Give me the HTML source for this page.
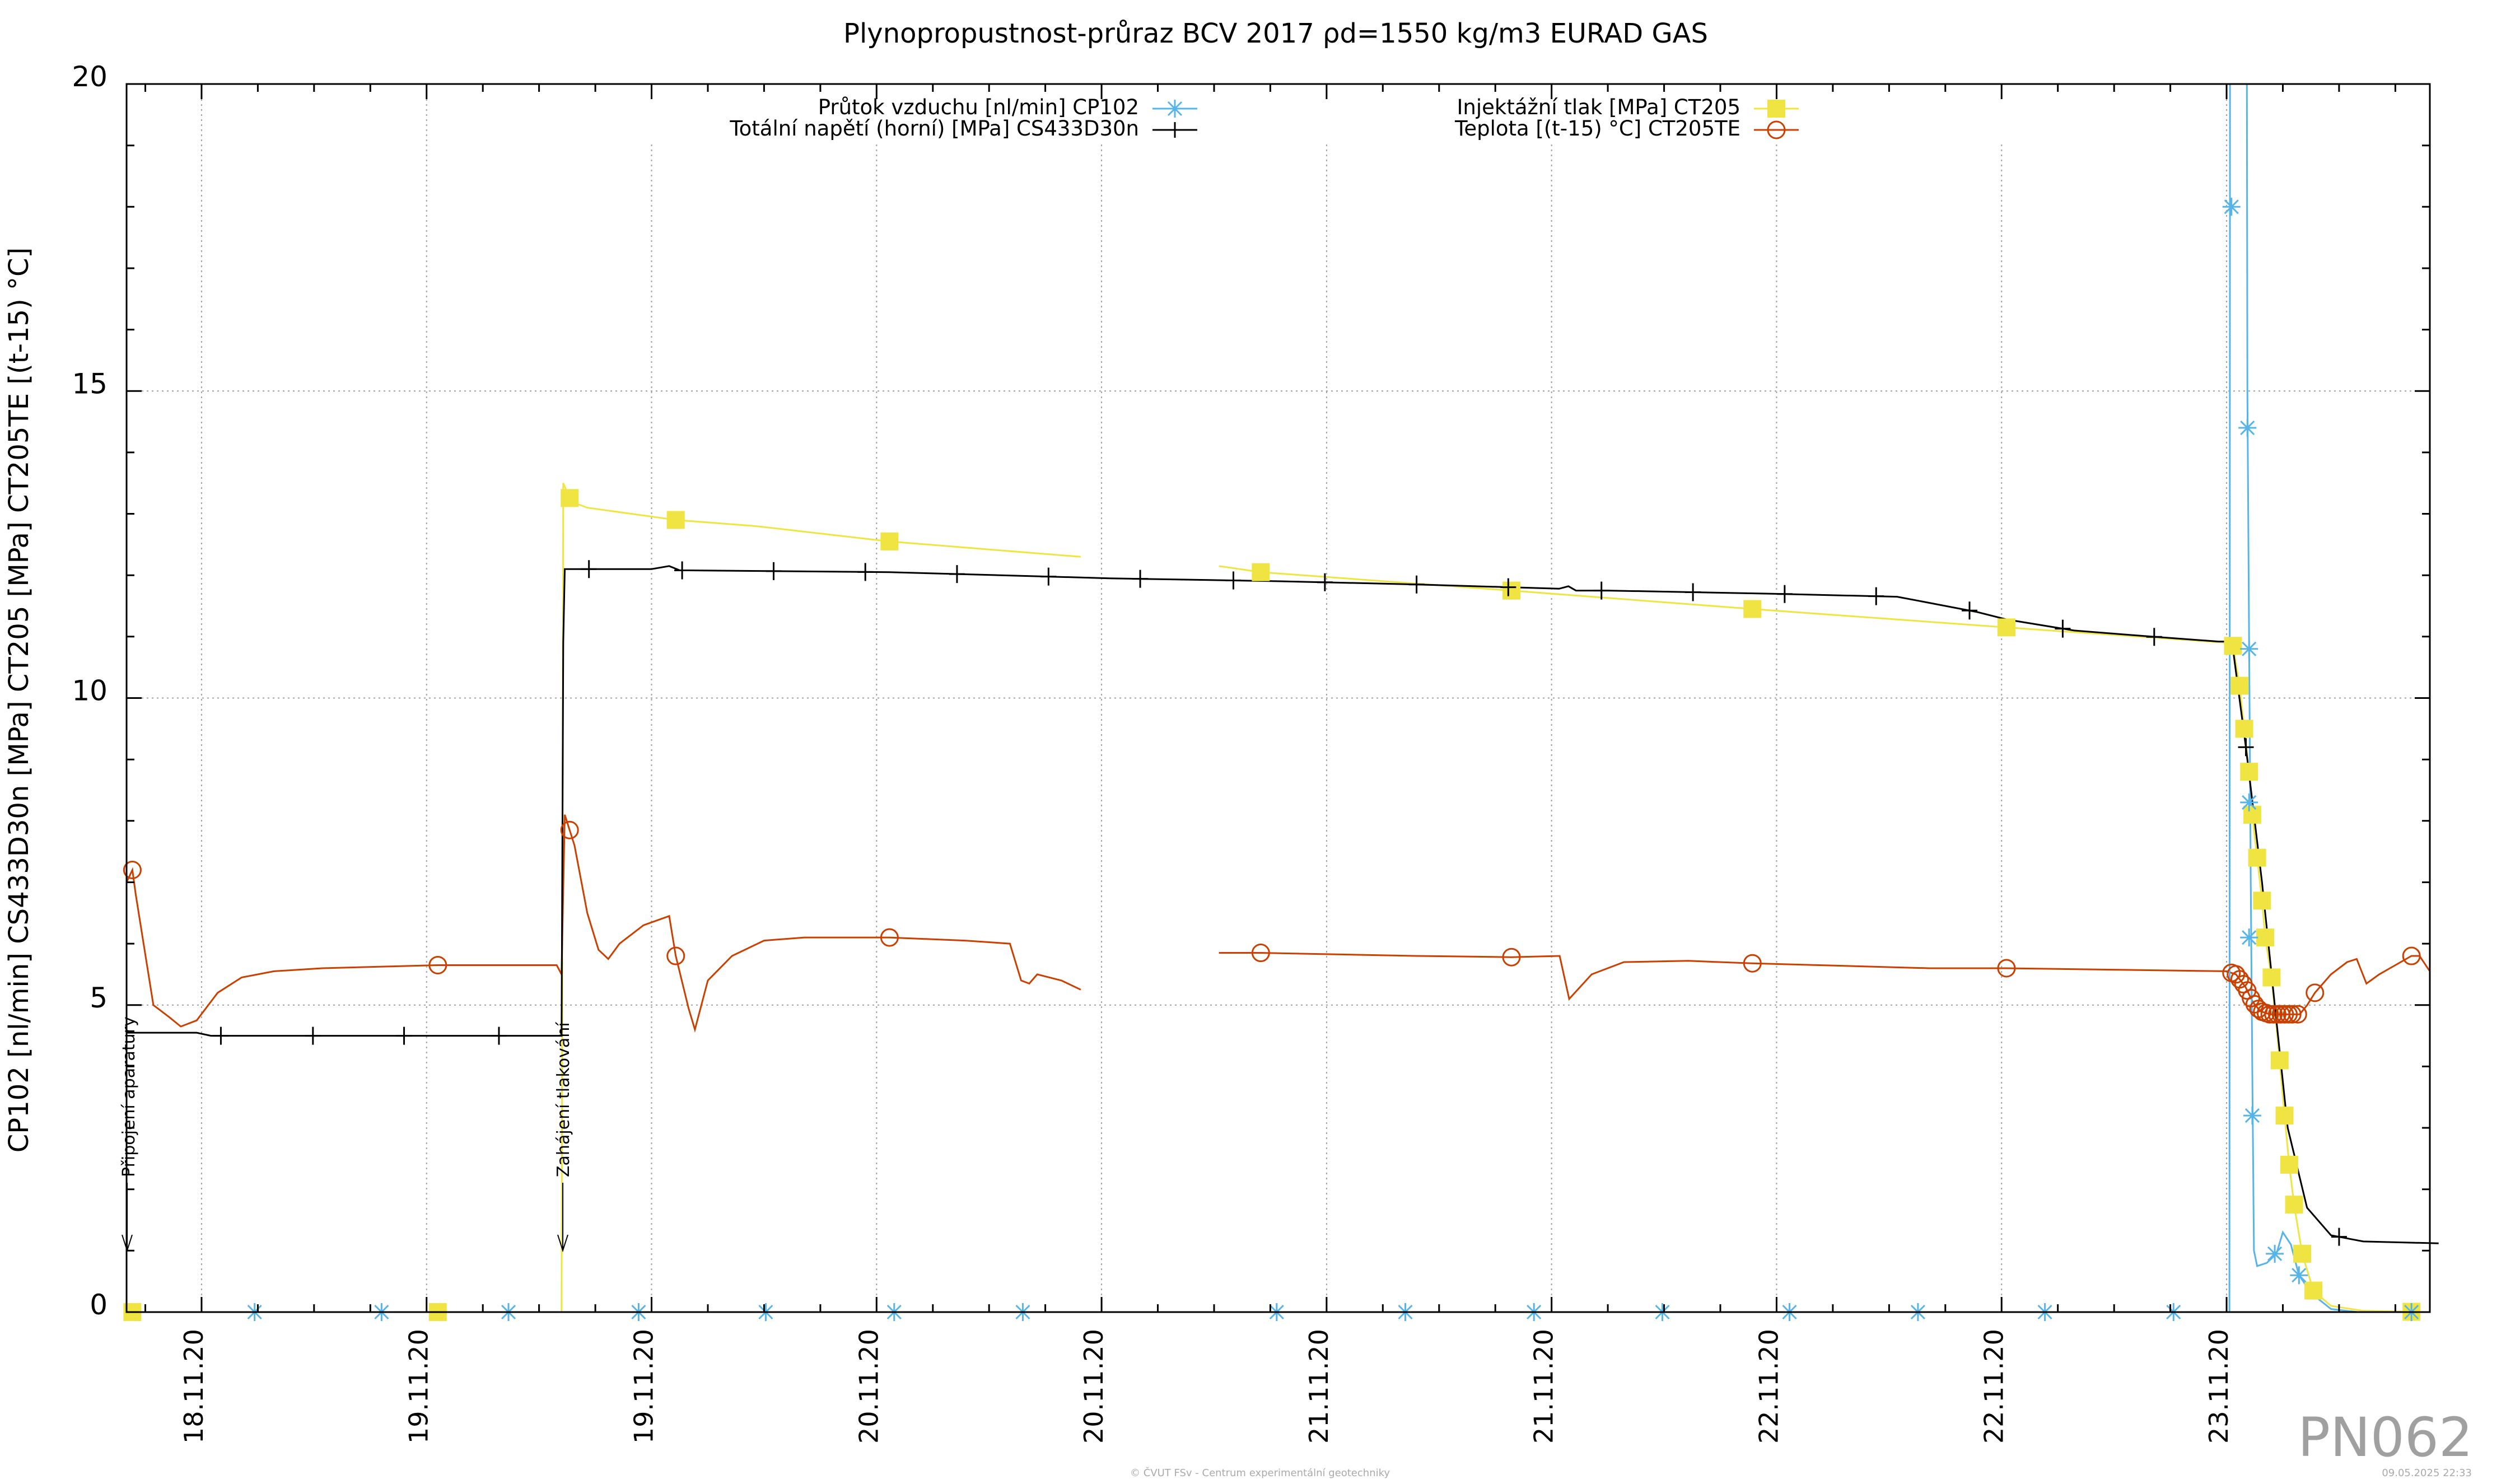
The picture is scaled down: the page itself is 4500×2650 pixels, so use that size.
<!DOCTYPE html>
<html><head><meta charset="utf-8"><style>
body{margin:0;background:#fff}
svg{display:block}
text{font-family:"DejaVu Sans","Liberation Sans",sans-serif}
</style></head><body>
<svg id="chart" width="4500" height="2650" viewBox="0 0 4500 2650" xmlns="http://www.w3.org/2000/svg">
<defs><clipPath id="clip"><rect x="226" y="150" width="4113" height="2193"/></clipPath></defs>
<rect width="4500" height="2650" fill="#fff"/>
<g id="grid"></g>
<rect x="830" y="152" width="3105" height="100" fill="#fff"/>
<g id="series"></g>
<rect x="226" y="150" width="4113" height="2193" fill="none" stroke="#000" stroke-width="3"/>
<g id="axes"></g>
<text x="2278" y="76" font-size="48" text-anchor="middle">Plynopropustnost-průraz BCV 2017 ρd=1550 kg/m3 EURAD GAS</text>
<text transform="translate(50,1250) rotate(-90)" font-size="48" text-anchor="middle">CP102 [nl/min] CS433D30n [MPa] CT205 [MPa] CT205TE [(t-15) °C]</text>
<g font-size="37">
<text x="2034" y="204" text-anchor="end">Průtok vzduchu [nl/min] CP102</text>
<text x="2034" y="242" text-anchor="end">Totální napětí (horní) [MPa] CS433D30n</text>
<text x="3108" y="204" text-anchor="end">Injektážní tlak [MPa] CT205</text>
<text x="3108" y="242" text-anchor="end">Teplota [(t-15) °C] CT205TE</text>
<g stroke="#56b4e9" stroke-width="3"><line x1="2058" y1="194" x2="2138" y2="194"/><path d="M2082 194h32M2098 178v32M2086 182l24 24M2110 182l-24 24"/></g>
<g stroke="#000" stroke-width="3"><line x1="2058" y1="232" x2="2138" y2="232"/><path d="M2098 218v28"/></g>
<g><line x1="3132" y1="194" x2="3212" y2="194" stroke="#f0e442" stroke-width="3"/><rect x="3156" y="178" width="32" height="32" fill="#f0e442"/></g>
<g><line x1="3132" y1="232" x2="3212" y2="232" stroke="#c94000" stroke-width="3"/><circle cx="3172" cy="232" r="15" fill="none" stroke="#c94000" stroke-width="3"/></g>
</g>
<g>
<text transform="translate(240,2102) rotate(-90)" font-size="30">Připojení aparatury</text>
<path d="M227 2112V2233M218 2205L227 2233L236 2205" fill="none" stroke="#000" stroke-width="2"/>
</g>
<g>
<text transform="translate(1016,2102) rotate(-90)" font-size="30">Zahájení tlakování</text>
<path d="M1005 2112V2233M996 2205L1005 2233L1014 2205" fill="none" stroke="#000" stroke-width="2"/>
</g>
<text x="4416" y="2600" font-size="96" text-anchor="end" fill="#a0a0a0">PN062</text>
<text x="2250" y="2636" font-size="18" text-anchor="middle" fill="#aaa">© ČVUT FSv - Centrum experimentální geotechniky</text>
<text x="4414" y="2636" font-size="18" text-anchor="end" fill="#aaa">09.05.2025 22:33</text>
</svg>
<script>
const xTicks=[0,12,24,36,48,60,72,84,96,108];
const xTickLabels=["18.11.20","19.11.20","19.11.20","20.11.20","20.11.20","21.11.20","21.11.20","22.11.20","22.11.20","23.11.20"];
const yTicks=[0,5,10,15,20];
// black CS433D30n
const blackT=[-4.0,-0.26,0.5,19.2,19.29,19.37,24.0,24.94,25.5,36.69,48.43,57.86,64.71,72.4,72.9,73.3,75.0,83.57,90.43,92.14,94.71,96.26,99.86,104,107.57,108.0,108.34,109.03,109.89,110.57,111.26,112.29,113.57,115.29,119.31];
const blackV=[4.55,4.55,4.5,4.5,10.9,12.1,12.1,12.15,12.08,12.05,11.95,11.9,11.85,11.78,11.82,11.75,11.75,11.7,11.65,11.55,11.4,11.28,11.1,11.0,10.92,10.92,10.8,9.2,7.0,5.0,3.0,1.7,1.25,1.15,1.12];
const blackMarkT=[1.03,5.94,10.8,15.86,20.66,25.63,30.51,35.4,40.29,45.17,50.06,55.03,59.91,64.8,69.69,74.66,79.54,84.43,89.31,94.29,99.26,104.14,109.03,114.0];
// yellow CT205 (null = gap)
const yelT=[-4.0,19.2,19.29,19.71,20.57,25.29,29.57,36.69,46.89,null,54.26,56.49,69.86,82.71,96.26,108.0,108.34,108.69,108.94,109.2,109.37,109.63,109.89,110.06,110.4,110.83,111.09,111.34,111.6,112.03,112.63,113.57,115.29,118.71];
const yelV=[0,0,13.5,13.2,13.1,12.9,12.8,12.55,12.3,null,12.15,12.05,11.75,11.45,11.15,10.9,10.85,10.2,9.5,8.8,8.1,7.4,6.7,6.1,5.45,4.1,3.2,2.4,1.75,0.95,0.35,0.1,0.02,0];
const yelMarkT=[-3.69,12.6,19.63,25.29,36.69,56.49,69.86,82.71,96.26,108.34,108.69,108.94,109.2,109.37,109.63,109.89,110.06,110.4,110.83,111.09,111.34,111.6,112.03,112.63,117.86];
// orange CT205TE
const orT=[-4.0,-3.69,-3.51,-2.57,-1.71,-1.11,-0.26,0.86,2.14,3.86,6.43,12.6,18.94,19.2,19.37,19.89,20.57,21.17,21.69,22.29,23.57,24.94,25.29,25.97,26.31,27.0,28.29,30.0,32.14,36.69,40.71,43.11,43.71,44.14,44.57,45.86,46.89,null,54.26,56.49,64.71,69.86,72.43,72.94,74.14,75.86,79.29,82.71,92.14,96.26,108.0,108.5,109.0,109.4,109.8,110.3,111.0,111.9,112.3,112.71,113.57,114.43,114.94,115.46,116.14,117.0,117.86,118.29,118.84];
const orV=[7.0,7.2,6.8,5.0,4.8,4.65,4.75,5.2,5.45,5.55,5.6,5.65,5.65,5.5,8.1,7.6,6.5,5.9,5.75,6.0,6.3,6.45,5.8,4.95,4.6,5.4,5.8,6.05,6.1,6.1,6.05,6.0,5.4,5.35,5.5,5.4,5.25,null,5.85,5.85,5.8,5.78,5.8,5.1,5.5,5.7,5.72,5.68,5.6,5.6,5.55,5.5,5.3,5.05,4.9,4.85,4.85,4.85,5.0,5.2,5.5,5.7,5.75,5.35,5.5,5.65,5.8,5.8,5.55];
const orMarkT=[-3.69,12.6,19.63,25.29,36.69,56.49,69.86,82.71,96.26,108.26,108.5,108.7,108.9,109.1,109.3,109.5,109.7,109.9,110.1,110.3,110.5,110.7,110.9,111.1,111.3,111.5,111.8,112.71,117.86];
// blue CP102
const bluT=[-4.0,108.15,108.2,109.03,109.11,109.2,109.29,109.37,109.46,109.63,110.14,110.66,111.0,111.43,111.86,112.54,113.57,115,118.84];
const bluV=[0,0,30,30,15,11,7,4,1.0,0.75,0.8,0.95,1.3,1.1,0.6,0.3,0.05,0,0];
const bluMarkT=[2.83,9.6,16.37,23.31,30.09,36.94,43.8,57.34,64.2,71.06,77.91,84.69,91.54,98.31,105.17,108.26,109.11,109.2,109.2,109.2,109.37,110.57,111.86,117.86];
const bluMarkV=[0,0,0,0,0,0,0,0,0,0,0,0,0,0,0,18.0,14.4,10.8,8.3,6.1,3.2,0.95,0.6,0];

const X0=226,X1=4339,Y0=2343,Y1=150,TMIN=-4.0,TMAX=118.84,VMAX=20;
function X(t){return X0+(t-TMIN)/(TMAX-TMIN)*(X1-X0);}
function Y(v){return Y0-v/VMAX*(Y0-Y1);}
const NS="http://www.w3.org/2000/svg";
function mk(tag,attrs,parent){const e=document.createElementNS(NS,tag);for(const k in attrs)e.setAttribute(k,attrs[k]);parent.appendChild(e);return e;}
function interp(T,V,t){for(let i=0;i<T.length-1;i++){if(T[i]===null||T[i+1]===null)continue;if(t>=T[i]&&t<=T[i+1]){const f=(t-T[i])/((T[i+1]-T[i])||1);return V[i]+f*(V[i+1]-V[i]);}}return V[V.length-1];}
function pathD(T,V){let d="",pen=false;for(let i=0;i<T.length;i++){if(T[i]===null){pen=false;continue;}d+=(pen?"L":"M")+X(T[i]).toFixed(1)+" "+Y(V[i]).toFixed(1);pen=true;}return d;}
const grid=document.getElementById('grid'),axes=document.getElementById('axes'),ser=document.getElementById('series');
let md="";
for(let t=-3;t<=TMAX;t+=3){if(t%12===0)continue;md+=`M${X(t).toFixed(1)} ${Y0}v-14M${X(t).toFixed(1)} ${Y1}v14`;}
for(let v=1;v<20;v++){if(v%5===0)continue;md+=`M${X0} ${Y(v).toFixed(1)}h14M${X1} ${Y(v).toFixed(1)}h-14`;}
const minor=mk('path',{d:md,stroke:'#000','stroke-width':3},axes);


xTicks.forEach((t,i)=>{
 const gl=mk('line',{x1:X(t),x2:X(t),y1:Y1,y2:Y0,stroke:'#a0a0a0','stroke-width':2,'stroke-dasharray':'3,6'},grid);
 
 
 const tk=mk('path',{d:`M${X(t)} ${Y0}v-27M${X(t)} ${Y1}v27`,stroke:'#000','stroke-width':3},axes);
 
 
 const lb=mk('text',{transform:`translate(${X(t)+2},2578) rotate(-90)`,'font-size':46},axes);
 lb.textContent=xTickLabels[i];
 
 
});
yTicks.forEach(v=>{
 if(v>0&&v<20){const gl=mk('line',{x1:X0,x2:X1,y1:Y(v),y2:Y(v),stroke:'#a0a0a0','stroke-width':2,'stroke-dasharray':'3,6'},grid);
 
 }
 const tk=mk('path',{d:`M${X0} ${Y(v)}h27M${X1} ${Y(v)}h-27`,stroke:'#000','stroke-width':3},axes);
 
 
 const lb=mk('text',{x:192,y:Y(v)+4,'font-size':50,'text-anchor':'end'},axes);
 lb.textContent=v;
 
 
});
const cg=mk('g',{'clip-path':'url(#clip)'},ser);
const yl=mk('path',{d:pathD(yelT,yelV),fill:'none',stroke:'#f0e442','stroke-width':3},cg);


const ol=mk('path',{d:pathD(orT,orV),fill:'none',stroke:'#c94000','stroke-width':3},cg);


const bl=mk('path',{d:pathD(blackT,blackV),fill:'none',stroke:'#000','stroke-width':3},ser);


const bll=mk('path',{d:pathD(bluT,bluV),fill:'none',stroke:'#56b4e9','stroke-width':3},cg);


yelMarkT.forEach(t=>{const v=interp(yelT,yelV,t);const r=mk('rect',{x:X(t)-16,y:Y(v)-16,width:32,height:32,fill:'#f0e442'},ser);
 
 });
orMarkT.forEach(t=>{const v=interp(orT,orV,t);const c=mk('circle',{cx:X(t),cy:Y(v),r:15,fill:'none',stroke:'#c94000','stroke-width':3},ser);
 
 });
blackMarkT.forEach(t=>{const v=interp(blackT,blackV,t);const p=mk('path',{d:`M${X(t)} ${Y(v)-16}v32M${X(t)-14} ${Y(v)}h28`,stroke:'#000','stroke-width':3},ser);
 
 });
bluMarkT.forEach((t,i)=>{const x=X(t),y=Y(bluMarkV[i]);const p=mk('path',{d:`M${x-16} ${y}h32M${x} ${y-16}v32M${x-12} ${y-12}l24 24M${x+12} ${y-12}l-24 24`,stroke:'#56b4e9','stroke-width':3},ser);
 
 });
</script>
</body></html>
